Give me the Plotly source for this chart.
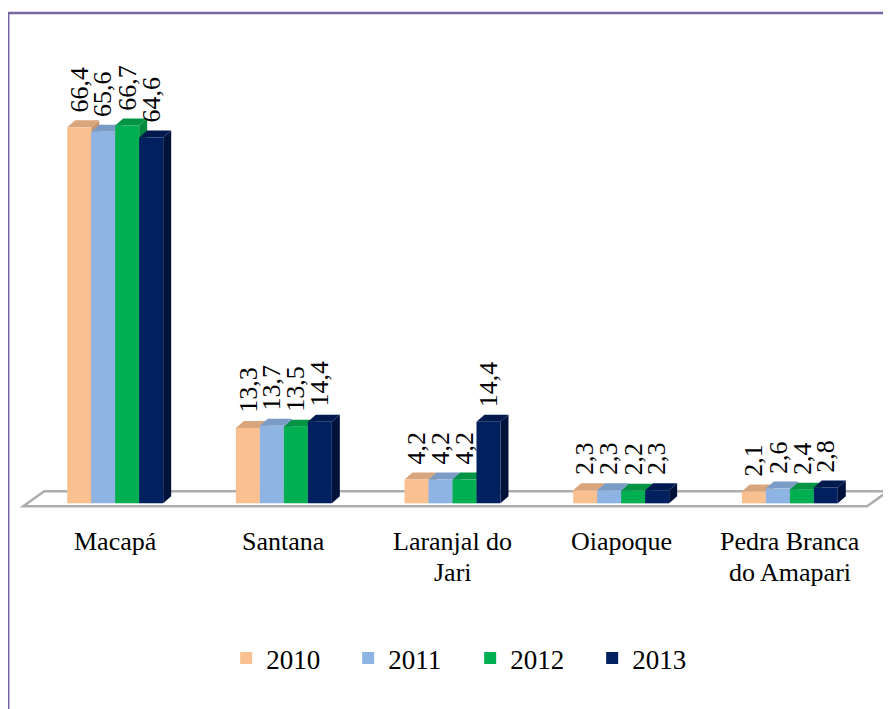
import plotly.graph_objects as go

categories = ["Macapá", "Santana", "Laranjal do<br>Jari", "Oiapoque", "Pedra Branca<br>do Amapari"]
years = ["2010", "2011", "2012", "2013"]
v2010 = [66.4, 13.3, 4.2, 2.3, 2.1]
v2011 = [65.6, 13.7, 4.2, 2.3, 2.6]
v2012 = [66.7, 13.5, 4.2, 2.2, 2.4]
v2013 = [64.6, 14.4, 14.4, 2.3, 2.8]
series = [v2010, v2011, v2012, v2013]

front_colors = ["#FAC090", "#8EB4E3", "#00B050", "#002060"]
top_colors = ["#D9A57C", "#7A9BC5", "#009444", "#001A50"]
side_colors = ["#C8966E", "#6F8DB5", "#008A3E", "#00123A"]

FONT = "Liberation Serif"

# layout geometry (pixels); page body has an 8px margin
OFF = 8
W, H = 891, 709
px_x = 168.7          # pixels per category unit
px_y = 5.66           # pixels per value unit
x_lo, x_hi = -0.6, 4.6
y_lo = -1.0
first_center = 115 - OFF
L = first_center - (0 - x_lo) * px_x
plot_w = (x_hi - x_lo) * px_x
R_ = W - L - plot_w
base_px = 503 - OFF
plot_top = 30
T = plot_top
y_hi = (base_px - plot_top) / px_y
plot_bottom = base_px + (-y_lo) * px_y
B = H - plot_bottom
plot_h = plot_bottom - plot_top


def paper_y(page_px):
    return (plot_bottom - (page_px - OFF)) / plot_h


bar_w = 24 / px_x
dep_x = 8 / px_x
dep_y = 7 / px_y

xs = list(range(len(categories)))

fig = go.Figure()
for i, (yr, vals) in enumerate(zip(years, series)):
    fig.add_trace(go.Bar(
        x=xs, y=vals, name=yr,
        marker=dict(color=front_colors[i], line=dict(width=0)),
        hoverinfo="skip",
    ))

shapes = []
fl_left = (23 - OFF - L) / px_x + x_lo
fl_right = (867 - OFF - L) / px_x + x_lo
fl_dx = 21 / px_x
fl_front = -3 / px_y
fl_back = 12 / px_y
shapes.append(dict(
    type="path", xref="x", yref="y", layer="below",
    path=(f"M{fl_left},{fl_front} L{fl_right},{fl_front} "
          f"L{fl_right + fl_dx},{fl_back} L{fl_left + fl_dx},{fl_back} Z"),
    fillcolor="white", line=dict(color="#ADADAD", width=2.5),
))

annotations = []
for i, vals in enumerate(series):
    off = (i - 1.5) * bar_w
    for xc, v in zip(xs, vals):
        x0 = xc + off - bar_w / 2
        x1 = xc + off + bar_w / 2
        shapes.append(dict(
            type="path", xref="x", yref="y", layer="below",
            path=(f"M{x1},0 L{x1},{v} L{x1 + dep_x},{v + dep_y} L{x1 + dep_x},{dep_y} Z"),
            fillcolor=side_colors[i], line=dict(width=0),
        ))
        shapes.append(dict(
            type="path", xref="x", yref="y", layer="below",
            path=(f"M{x0},{v} L{x1},{v} L{x1 + dep_x},{v + dep_y} L{x0 + dep_x},{v + dep_y} Z"),
            fillcolor=top_colors[i], line=dict(width=0),
        ))
        annotations.append(dict(
            x=xc + off, y=v, xref="x", yref="y",
            text=f"{v:.1f}".replace(".", ","),
            textangle=-90, showarrow=False,
            xanchor="center", yanchor="bottom",
            yshift=13, xshift=0,
            font=dict(family=FONT, size=26, color="black"),
        ))

# category labels (each line placed separately for tighter line spacing)
line_centers = [541, 572]
for xc, cat in zip(xs, categories):
    for k, line in enumerate(cat.split("<br>")):
        annotations.append(dict(
            x=xc, y=paper_y(line_centers[k]), xref="x", yref="paper",
            text=line, showarrow=False, xanchor="center", yanchor="middle",
            font=dict(family=FONT, size=26, color="black"),
        ))

shapes.append(dict(
    type="rect", xref="paper", yref="paper", layer="above",
    x0=(8 - OFF - L) / plot_w, x1=(W + 20 - L) / plot_w,
    y0=paper_y(H + 30), y1=paper_y(13),
    line=dict(color="#7665A0", width=2.5), fillcolor="rgba(0,0,0,0)",
))

fig.update_layout(
    width=W, height=H,
    margin=dict(l=L, r=R_, t=T, b=B, pad=0),
    paper_bgcolor="white", plot_bgcolor="rgba(0,0,0,0)",
    barmode="group", bargap=1 - 4 * bar_w, bargroupgap=0,
    font=dict(family=FONT, size=26, color="black"),
    xaxis=dict(range=[x_lo, x_hi], tickvals=xs, showticklabels=False,
               showgrid=False, zeroline=False, showline=False, ticks="",
               fixedrange=True),
    yaxis=dict(range=[y_lo, y_hi], visible=False, showgrid=False,
               zeroline=False, fixedrange=True),
    showlegend=True,
    legend=dict(orientation="h", x=(226 - OFF - L) / plot_w, xanchor="left",
                y=paper_y(658), yanchor="middle",
                font=dict(family=FONT, size=27, color="black"),
                bgcolor="rgba(0,0,0,0)", traceorder="normal",
                entrywidth=77, entrywidthmode="pixels"),
    shapes=shapes, annotations=annotations,
)

fig.write_html("out.html")
